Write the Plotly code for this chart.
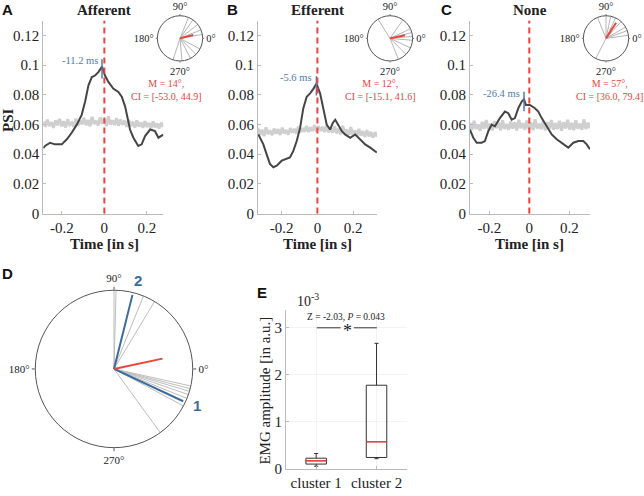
import numpy as np
import plotly.graph_objects as go

W, H = 644, 496
SERIF = "Liberation Serif"
SANS = "Liberation Sans"
RED = "#e8453c"
BLUE = "#4f7bab"
DBLUE = "#3d6c9c"
DARK = "#454545"
LGRAY = "#cfcfcf"

# ---------------- data: panels A-C (PSI over time) ----------------
A_T = [-0.288, -0.280, -0.256, -0.233, -0.201, -0.177, -0.154, -0.130, -0.107, -0.091,
       -0.075, -0.059, -0.044, -0.028, -0.0112, 0.003, 0.019, 0.042, 0.066, 0.082,
       0.098, 0.109, 0.121, 0.137, 0.160, 0.176, 0.192, 0.216, 0.239, 0.255, 0.278]
A_PSI = [0.0440, 0.0455, 0.0477, 0.0466, 0.0466, 0.0500, 0.0544, 0.0599, 0.0665, 0.0754,
         0.0864, 0.0920, 0.0930, 0.0953, 0.0990, 0.0930, 0.0887, 0.0842, 0.0820, 0.0787,
         0.0721, 0.0643, 0.0566, 0.0511, 0.0455, 0.0466, 0.0522, 0.0566, 0.0555, 0.0511, 0.0532]

B_T = [-0.331, -0.303, -0.285, -0.266, -0.247, -0.228, -0.200, -0.172, -0.154, -0.135,
       -0.116, -0.097, -0.079, -0.060, -0.041, -0.022, -0.0056, 0.015, 0.034, 0.052,
       0.071, 0.086, 0.100, 0.118, 0.137, 0.155, 0.184, 0.212, 0.240, 0.268, 0.296, 0.333]
B_PSI = [0.0533, 0.0466, 0.0400, 0.0334, 0.0312, 0.0323, 0.0356, 0.0367, 0.0378, 0.0422,
         0.0489, 0.0577, 0.0710, 0.0787, 0.0810, 0.0842, 0.0875, 0.0810, 0.0710, 0.0600,
         0.0566, 0.0610, 0.0632, 0.0599, 0.0555, 0.0533, 0.0510, 0.0533, 0.0500, 0.0466, 0.0444, 0.0411]

C_T = [-0.297, -0.280, -0.263, -0.238, -0.222, -0.205, -0.188, -0.172, -0.147, -0.122,
       -0.105, -0.088, -0.072, -0.055, -0.038, -0.0264, -0.017, 0.003, 0.028, 0.045,
       0.062, 0.087, 0.112, 0.137, 0.170, 0.195, 0.220, 0.245, 0.270, 0.287, 0.303]
C_PSI = [0.0566, 0.0511, 0.0477, 0.0477, 0.0488, 0.0555, 0.0599, 0.0588, 0.0643, 0.0687,
         0.0676, 0.0632, 0.0643, 0.0710, 0.0754, 0.0770, 0.0732, 0.0732, 0.0710, 0.0687,
         0.0643, 0.0588, 0.0533, 0.0500, 0.0466, 0.0444, 0.0477, 0.0488, 0.0488, 0.0466, 0.0433]

# surrogate (shuffled) PSI, gray noisy trace
A_GRAY = [0.0620, 0.0585, 0.0632, 0.0590, 0.0615, 0.0578, 0.0628, 0.0595, 0.0638, 0.0588,
          0.0622, 0.0580, 0.0635, 0.0598, 0.0612, 0.0584, 0.0640, 0.0592, 0.0626, 0.0601,
          0.0645, 0.0596, 0.0630, 0.0588, 0.0652, 0.0603, 0.0624, 0.0594, 0.0648, 0.0605,
          0.0636, 0.0590, 0.0655, 0.0600, 0.0628, 0.0597, 0.0642, 0.0592, 0.0633, 0.0599,
          0.0625, 0.0584, 0.0630, 0.0590, 0.0618, 0.0580, 0.0627, 0.0586, 0.0614, 0.0578,
          0.0622, 0.0583, 0.0610, 0.0576, 0.0620, 0.0582, 0.0606, 0.0574, 0.0612, 0.0585]
B_GRAY = [0.0575, 0.0530, 0.0565, 0.0522, 0.0580, 0.0535, 0.0560, 0.0528, 0.0572, 0.0538,
          0.0568, 0.0530, 0.0578, 0.0540, 0.0562, 0.0532, 0.0575, 0.0545, 0.0570, 0.0538,
          0.0585, 0.0548, 0.0575, 0.0552, 0.0590, 0.0550, 0.0580, 0.0556, 0.0595, 0.0553,
          0.0588, 0.0558, 0.0584, 0.0550, 0.0592, 0.0548, 0.0578, 0.0545, 0.0586, 0.0540,
          0.0572, 0.0535, 0.0590, 0.0538, 0.0565, 0.0530, 0.0582, 0.0528, 0.0560, 0.0522,
          0.0570, 0.0525, 0.0555, 0.0515, 0.0562, 0.0520, 0.0550, 0.0512, 0.0548, 0.0518]
C_GRAY = [0.0610, 0.0565, 0.0625, 0.0570, 0.0600, 0.0558, 0.0618, 0.0572, 0.0630, 0.0566,
          0.0605, 0.0560, 0.0622, 0.0575, 0.0612, 0.0562, 0.0628, 0.0570, 0.0603, 0.0565,
          0.0620, 0.0572, 0.0615, 0.0560, 0.0632, 0.0575, 0.0608, 0.0566, 0.0626, 0.0570,
          0.0612, 0.0562, 0.0635, 0.0574, 0.0605, 0.0568, 0.0622, 0.0560, 0.0616, 0.0572,
          0.0630, 0.0565, 0.0608, 0.0570, 0.0625, 0.0558, 0.0615, 0.0574, 0.0632, 0.0566,
          0.0610, 0.0562, 0.0628, 0.0572, 0.0606, 0.0565, 0.0634, 0.0570, 0.0612, 0.0575]

TITLES = ["Afferent", "Efferent", "None"]
LETTERS = ["A", "B", "C"]
PEAK_MS = [-11.2, -5.6, -26.4]
PEAK_PSI = [0.0990, 0.0875, 0.0770]
MEAN_DEG = [14, 12, 57]
CI_TXT = ["[-53.0, 44.9]", "[-15.1, 41.6]", "[36.0, 79.4]"]
MEAN_R = [0.6, 0.68, 0.82]
# individual phase angles (deg) in the inset polar plots
A_ANG = [68, 55, 38, 22, 10, -28, -45, -62, -85, -108]
B_ANG = [122, 55, 25, 15, 5, -5, -25, -45, -68]
C_ANG = [112, 90, 78, 65, 48, 30, 20, 8, 243]

Y_TICKS = [0, 0.02, 0.04, 0.06, 0.08, 0.1, 0.12]
Y_TICKTEXT = ["0", "0.02", "0.04", "0.06", "0.08", "0.1", "0.12"]
X_TICKS = [-0.2, 0, 0.2]
X_TICKTEXT = ["-0.2", "0", "0.2"]

# ---------------- data: panel D ----------------
D_GRAY_ANG = [90, 88.5, 68, 59, -12.5, -14.5, -16.5, -19, -22, -28, -54]
D_BLUE_ANG = [-25, 76]
D_BLUE_LBL = ["1", "2"]
D_MEAN_DEG = 12
D_MEAN_R = 0.63

# ---------------- data: panel E ----------------
E_CATS = ["cluster 1", "cluster 2"]
E_LOW = [0.06, 0.22]
E_Q1 = [0.105, 0.245]
E_MED = [0.175, 0.58]
E_Q3 = [0.23, 1.78]
E_HIGH = [0.33, 2.67]
E_Z = "-2.03"
E_P = "0.043"

fig = go.Figure()

def px2fx(p):
    return p / W

def py2fy(p):
    return 1 - p / H

def txt(x, y, text, size, color="#222", family=SERIF, angle=0):
    return dict(x=px2fx(x), y=py2fy(y), xref="paper", yref="paper", text=text,
                showarrow=False, xanchor="center", yanchor="middle", textangle=angle,
                font=dict(family=family, size=size, color=color))

# panel geometry in pixels (left, right) and x ranges
PANEL_X = [(43.3, 163.3), (258, 377), (470, 590)]
PANEL_XR = [(-0.288, 0.278), (-0.333, 0.334), (-0.2965, 0.3035)]
Y_BOT, Y_TOP = 217, 21
INSET_CX = [180, 390, 606]
MCI_CX = [166, 380, 609]
TITLE_CX = [104.5, 317.5, 529.5]
LETTER_X = [7.5, 232, 446]

curves = [(A_T, A_PSI, A_GRAY), (B_T, B_PSI, B_GRAY), (C_T, C_PSI, C_GRAY)]

annotations = []
shapes = []
layout_axes = {}
for i in range(3):
    ax = "" if i == 0 else str(i + 1)
    xa, ya = "x" + ax, "y" + ax
    t, psi, gray = curves[i]
    xr = PANEL_XR[i]
    tg = np.linspace(xr[0], xr[1], len(gray))
    fig.add_trace(go.Scatter(x=tg, y=gray, mode="lines", xaxis=xa, yaxis=ya,
                             line=dict(color=LGRAY, width=3), hoverinfo="skip"))
    fig.add_trace(go.Scatter(x=t, y=psi, mode="lines", xaxis=xa, yaxis=ya,
                             line=dict(color=DARK, width=2)))
    # zero line
    shapes.append(dict(type="line", xref=xa, yref=ya + " domain", x0=0, x1=0, y0=0, y1=1,
                       line=dict(color=RED, width=2, dash="6px,4px")))
    # peak marker
    pt = PEAK_MS[i] / 1000.0
    pk = PEAK_PSI[i]
    fig.add_trace(go.Scatter(x=[pt, pt], y=[pk - 0.008, pk + 0.005], mode="lines",
                             xaxis=xa, yaxis=ya, line=dict(color=BLUE, width=1.5)))
    annotations.append(dict(x=pt, y=pk + 0.004, xref=xa, yref=ya, xanchor="right",
                            yanchor="middle", xshift=-2, showarrow=False,
                            text=f"{PEAK_MS[i]} ms", font=dict(family=SERIF, size=10.5, color=BLUE)))
    l, r = PANEL_X[i]
    common = dict(showline=True, linecolor="#bbbbbb", linewidth=1, ticks="inside",
                  ticklen=3, tickcolor="#bbbbbb", showgrid=False, zeroline=False,
                  tickfont=dict(family=SERIF, size=15, color="#222222"))
    layout_axes["xaxis" + ax] = dict(domain=[px2fx(l), px2fx(r)], range=list(xr),
                                     tickvals=X_TICKS, ticktext=X_TICKTEXT, anchor=ya, **common)
    layout_axes["yaxis" + ax] = dict(domain=[py2fy(Y_BOT), py2fy(Y_TOP)], range=[0, 0.13],
                                     tickvals=Y_TICKS, ticktext=Y_TICKTEXT, anchor=xa, **common)
    annotations.append(txt(TITLE_CX[i], 10, f"<b>{TITLES[i]}</b>", 15))
    annotations.append(txt(TITLE_CX[i], 248, "<b>Time [in s]</b>", 15))
    annotations.append(txt(LETTER_X[i], 10, f"<b>{LETTERS[i]}</b>", 15, "#111", SANS))
    annotations.append(txt(MCI_CX[i], 91.5, f"M = {MEAN_DEG[i]}°,<br>CI = {CI_TXT[i]}", 10, RED))
    # inset polar
    pol = "polar" if i == 0 else "polar" + str(i + 1)
    angs = [A_ANG, B_ANG, C_ANG][i]
    rr, th = [], []
    for a in angs:
        rr += [0, 1, None]
        th += [0, a, None]
    fig.add_trace(go.Scatterpolar(r=rr, theta=th, mode="lines", subplot=pol,
                                  line=dict(color="#b5b5b5", width=1)))
    fig.add_trace(go.Scatterpolar(r=[0, MEAN_R[i]], theta=[0, MEAN_DEG[i]], mode="lines",
                                  subplot=pol, line=dict(color=RED, width=2)))
    c = INSET_CX[i]
    layout_axes[pol] = dict(
        domain=dict(x=[px2fx(c - 23), px2fx(c + 23)], y=[py2fy(62), py2fy(16)]),
        bgcolor="white",
        radialaxis=dict(visible=False, range=[0, 1]),
        angularaxis=dict(tickvals=[0, 90, 180, 270], ticktext=["0°", "90°", "180°", "270°"],
                         direction="counterclockwise", rotation=0, showgrid=False,
                         linecolor="#555", linewidth=1, ticks="outside", ticklen=1,
                         tickcolor="#555", tickfont=dict(family=SERIF, size=10.5, color="#222")))

annotations.append(txt(8, 122, "<b>PSI</b>", 15, angle=-90))

# ---------------- panel D ----------------
rr, th = [], []
for a in D_GRAY_ANG:
    rr += [0, 1, None]
    th += [0, a, None]
fig.add_trace(go.Scatterpolar(r=rr, theta=th, mode="lines", subplot="polar4",
                              line=dict(color="#bdbdbd", width=1)))
for a, lbl in zip(D_BLUE_ANG, D_BLUE_LBL):
    fig.add_trace(go.Scatterpolar(r=[0, 0.97], theta=[0, a], mode="lines", subplot="polar4",
                                  line=dict(color=DBLUE, width=2)))
fig.add_trace(go.Scatterpolar(r=[0, D_MEAN_R], theta=[0, D_MEAN_DEG], mode="lines",
                              subplot="polar4", line=dict(color=RED, width=2)))
layout_axes["polar4"] = dict(
    domain=dict(x=[px2fx(34), px2fx(194)], y=[py2fy(455), py2fy(295)]),
    bgcolor="white",
    radialaxis=dict(visible=False, range=[0, 1]),
    angularaxis=dict(tickvals=[0, 90, 180, 270], ticktext=["0°", "90°", "180°", "270°"],
                     direction="counterclockwise", rotation=0, showgrid=False,
                     linecolor="#555", linewidth=1, ticks="outside", ticklen=3,
                     tickcolor="#555", tickfont=dict(family=SERIF, size=11, color="#222")))
for (x, y), lbl in zip([(197, 412), (138, 285)], D_BLUE_LBL):
    annotations.append(txt(x, y, f"<b>{lbl}</b>", 15, DBLUE, SANS))
annotations.append(txt(8, 278, "<b>D</b>", 15, "#111", SANS))

# ---------------- panel E ----------------
BOXW = 0.34
fig.add_trace(go.Box(x=[1, 2], q1=E_Q1, median=E_MED, q3=E_Q3, lowerfence=E_LOW,
                     upperfence=E_HIGH, xaxis="x5", yaxis="y5", width=BOXW, whiskerwidth=0.2,
                     line=dict(color="#333333", width=1), fillcolor="rgba(0,0,0,0)",
                     boxpoints=False))
for k, m in enumerate(E_MED):
    fig.add_trace(go.Scatter(x=[k + 1 - BOXW / 2, k + 1 + BOXW / 2], y=[m, m], mode="lines",
                             xaxis="x5", yaxis="y5", line=dict(color=RED, width=1.5)))
fig.add_trace(go.Scatter(x=[1.01, 1.405, None, 1.625, 2.005], y=[3, 3, None, 3, 3], mode="lines",
                         xaxis="x5", yaxis="y5", line=dict(color="#333", width=1)))
annotations.append(dict(x=1.515, y=3.0, xref="x5", yref="y5", text="*", showarrow=False,
                        xanchor="center", yanchor="middle", yshift=-3,
                        font=dict(family=SERIF, size=18, color="#222")))
annotations.append(dict(x=1.5, y=3.24, xref="x5", yref="y5",
                        text=f"Z = {E_Z}, <i>P</i> = {E_P}", showarrow=False,
                        xanchor="center", yanchor="middle",
                        font=dict(family=SERIF, size=9.5, color="#222")))
ecommon = dict(showline=True, linecolor="#bbbbbb", linewidth=1, ticks="inside", ticklen=3,
               tickcolor="#bbbbbb", zeroline=False, showgrid=True, gridcolor="#f3f3f3",
               tickfont=dict(family=SERIF, size=15, color="#222222"))
layout_axes["xaxis5"] = dict(domain=[px2fx(286), px2fx(406.7)], range=[0.5, 2.5], tickvals=[1, 2],
                             ticktext=E_CATS, anchor="y5", **ecommon)
layout_axes["yaxis5"] = dict(domain=[py2fy(476.7), py2fy(315)], range=[0, 3.38],
                             tickvals=[0, 1, 2, 3], ticktext=["0", "1", "2", "3"], anchor="x5", **ecommon)
annotations.append(txt(308, 305, "10<sup>-3</sup>", 14))
annotations.append(txt(265, 397, "EMG amplitude [in a.u.]", 15, angle=-90))
annotations.append(txt(262, 297, "<b>E</b>", 15, "#111", SANS))

fig.update_layout(width=W, height=H, margin=dict(l=0, r=0, t=0, b=0),
                  paper_bgcolor="white", plot_bgcolor="white", showlegend=False,
                  annotations=annotations, shapes=shapes, **layout_axes)
fig.write_html("out.html", config={"displayModeBar": False},
               post_script="document.body.style.margin='0';document.body.style.padding='0';")
